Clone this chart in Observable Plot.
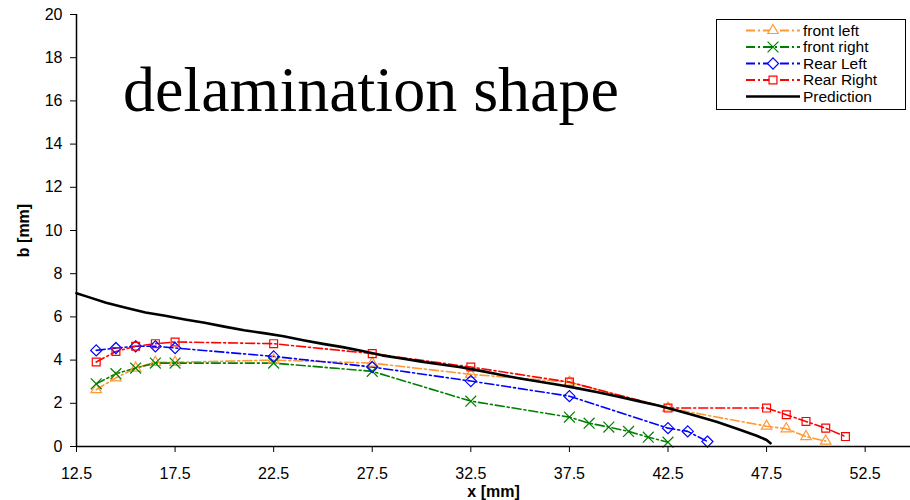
<!DOCTYPE html>
<html>
<head>
<meta charset="utf-8">
<script src="https://cdn.jsdelivr.net/npm/d3@7"></script>
<script src="https://cdn.jsdelivr.net/npm/@observablehq/plot@0.6"></script>
<style>
  body { margin: 0; background: #fff; }
  #wrap { position: relative; width: 910px; height: 500px; }
  #title { position: absolute; left: 123px; top: 58px; font-family: "Liberation Serif", "Times New Roman", serif; font-size: 64px; line-height: 1; white-space: nowrap; }
  #legend { position: absolute; left: 716px; top: 19px; }
  svg text { font-family: "Liberation Sans", Arial, sans-serif; }
</style>
</head>
<body>
<div id="wrap">
  <div id="chart"></div>
  <div id="title">delamination shape</div>
  <div id="legend"></div>
</div>
<script>
// ---- data ----
const seriesNames = ["front left", "front right", "Rear Left", "Rear Right", "Prediction"];

const frontLeftX  = [13.5, 14.5, 15.5, 16.5, 17.5, 22.5, 27.5, 32.5, 37.5, 42.5, 47.5, 48.5, 49.5, 50.5];
const frontLeftY  = [2.63, 3.18, 3.63, 3.90, 3.90, 4.00, 3.86, 3.34, 2.98, 1.78, 0.94, 0.82, 0.46, 0.25];

const frontRightX = [13.5, 14.5, 15.5, 16.5, 17.5, 22.5, 27.5, 32.5, 37.5, 38.5, 39.5, 40.5, 41.5, 42.5];
const frontRightY = [2.90, 3.37, 3.63, 3.86, 3.86, 3.86, 3.48, 2.10, 1.36, 1.08, 0.90, 0.70, 0.43, 0.20];

const rearLeftX   = [13.5, 14.5, 15.5, 16.5, 17.5, 22.5, 27.5, 32.5, 37.5, 42.5, 43.5, 44.5];
const rearLeftY   = [4.45, 4.56, 4.64, 4.64, 4.56, 4.17, 3.68, 3.03, 2.33, 0.85, 0.70, 0.23];

const rearRightX  = [13.5, 14.5, 15.5, 16.5, 17.5, 22.5, 27.5, 32.5, 37.5, 42.5, 47.5, 48.5, 49.5, 50.5, 51.5];
const rearRightY  = [3.91, 4.40, 4.64, 4.76, 4.84, 4.76, 4.30, 3.68, 2.98, 1.78, 1.78, 1.47, 1.16, 0.85, 0.46];

const predX = [12.5, 13, 14, 15, 16, 17, 18, 19, 20, 21, 22, 23, 24, 25, 26, 27, 28, 29, 30, 31, 32, 33, 34, 35, 36, 37, 38, 39, 40, 41, 42, 43, 44, 45, 46, 47, 47.5, 47.7];
const predY = [7.10, 6.95, 6.65, 6.42, 6.20, 6.05, 5.88, 5.73, 5.55, 5.38, 5.25, 5.10, 4.92, 4.75, 4.60, 4.42, 4.22, 4.07, 3.93, 3.80, 3.67, 3.50, 3.32, 3.15, 3.00, 2.85, 2.68, 2.50, 2.30, 2.10, 1.90, 1.65, 1.40, 1.13, 0.82, 0.50, 0.30, 0.15];

const xTicks = [12.5, 17.5, 22.5, 27.5, 32.5, 37.5, 42.5, 47.5, 52.5];
const yTicks = [0, 2, 4, 6, 8, 10, 12, 14, 16, 18, 20];

const colors  = ["#FF9933", "#008000", "#0000FF", "#FF0000", "#000000"];
const symbols = ["triangle2", "times", "diamond2", "square2", null];
const dash = "9,3,2,3";

// ---- build tables ----
const zip = (xs, ys, s) => xs.map((x, i) => ({x, y: ys[i], s}));
const series = [
  zip(frontLeftX, frontLeftY, seriesNames[0]),
  zip(frontRightX, frontRightY, seriesNames[1]),
  zip(rearLeftX, rearLeftY, seriesNames[2]),
  zip(rearRightX, rearRightY, seriesNames[3])
];
const pred = zip(predX, predY, seriesNames[4]);

const marks = [];
series.forEach((d, i) => {
  marks.push(Plot.line(d, {x: "x", y: "y", stroke: colors[i], strokeWidth: 1.6, strokeDasharray: dash}));
});
series.forEach((d, i) => {
  marks.push(Plot.dot(d, {x: "x", y: "y", stroke: colors[i], fill: "none", symbol: symbols[i], r: 5, strokeWidth: 1.2}));
});
marks.push(Plot.line(pred, {x: "x", y: "y", stroke: "#000", strokeWidth: 2.6}));

marks.push(Plot.axisY({ticks: yTicks, tickSize: 6, fontSize: 16, label: "b [mm]", labelAnchor: "center", labelArrow: "none", labelOffset: 59, tickPadding: 8}));
marks.push(Plot.axisX({ticks: xTicks, tickSize: 6, fontSize: 16, tickFormat: d3.format(".1f"), label: "x [mm]", labelAnchor: "center", labelArrow: "none", labelOffset: 50, tickPadding: 15}));
marks.push(Plot.ruleY([0], {stroke: "#000", strokeWidth: 1.5}));
marks.push(Plot.ruleX([12.5], {stroke: "#000", strokeWidth: 1.5}));

const chart = Plot.plot({
  width: 910,
  height: 500,
  marginLeft: 76,
  marginTop: 14,
  marginBottom: 54,
  marginRight: 0,
  x: {domain: [12.5, 54.8]},
  y: {domain: [0, 20]},
  style: {fontSize: "16px", color: "#000", background: "#fff"},
  marks
});
document.getElementById("chart").appendChild(chart);

// bold axis labels
d3.select(chart).selectAll('g[aria-label="x-axis label"] text, g[aria-label="y-axis label"] text')
  .attr("font-weight", "bold").attr("font-size", 16);

// ---- legend ----
const lg = d3.select("#legend").append("svg").attr("width", 190).attr("height", 91);
lg.append("rect").attr("x", 0.5).attr("y", 0.5).attr("width", 189).attr("height", 90)
  .attr("fill", "#fff").attr("stroke", "#000");
const rowY = [11.5, 28, 44.5, 61, 77.5];
const symMap = {triangle2: d3.symbolTriangle2, times: d3.symbolTimes, diamond2: d3.symbolDiamond2, square2: d3.symbolSquare2};
seriesNames.forEach((name, i) => {
  const g = lg.append("g").attr("transform", `translate(0,${rowY[i]})`);
  g.append("line").attr("x1", 30).attr("x2", 84).attr("y1", 0).attr("y2", 0)
    .attr("stroke", colors[i]).attr("stroke-width", i === 4 ? 2.6 : 2)
    .attr("stroke-dasharray", i === 4 ? null : dash);
  if (symbols[i]) {
    g.append("path").attr("transform", "translate(57,0)")
      .attr("d", d3.symbol(symMap[symbols[i]], Math.PI * 25)())
      .attr("fill", "#fff").attr("stroke", colors[i]).attr("stroke-width", 1.2);
  }
  g.append("text").attr("x", 87).attr("y", 0).attr("dy", "0.35em")
    .attr("font-size", 15.5).attr("font-family", "Liberation Sans, Arial, sans-serif").text(name);
});
</script>
</body>
</html>
